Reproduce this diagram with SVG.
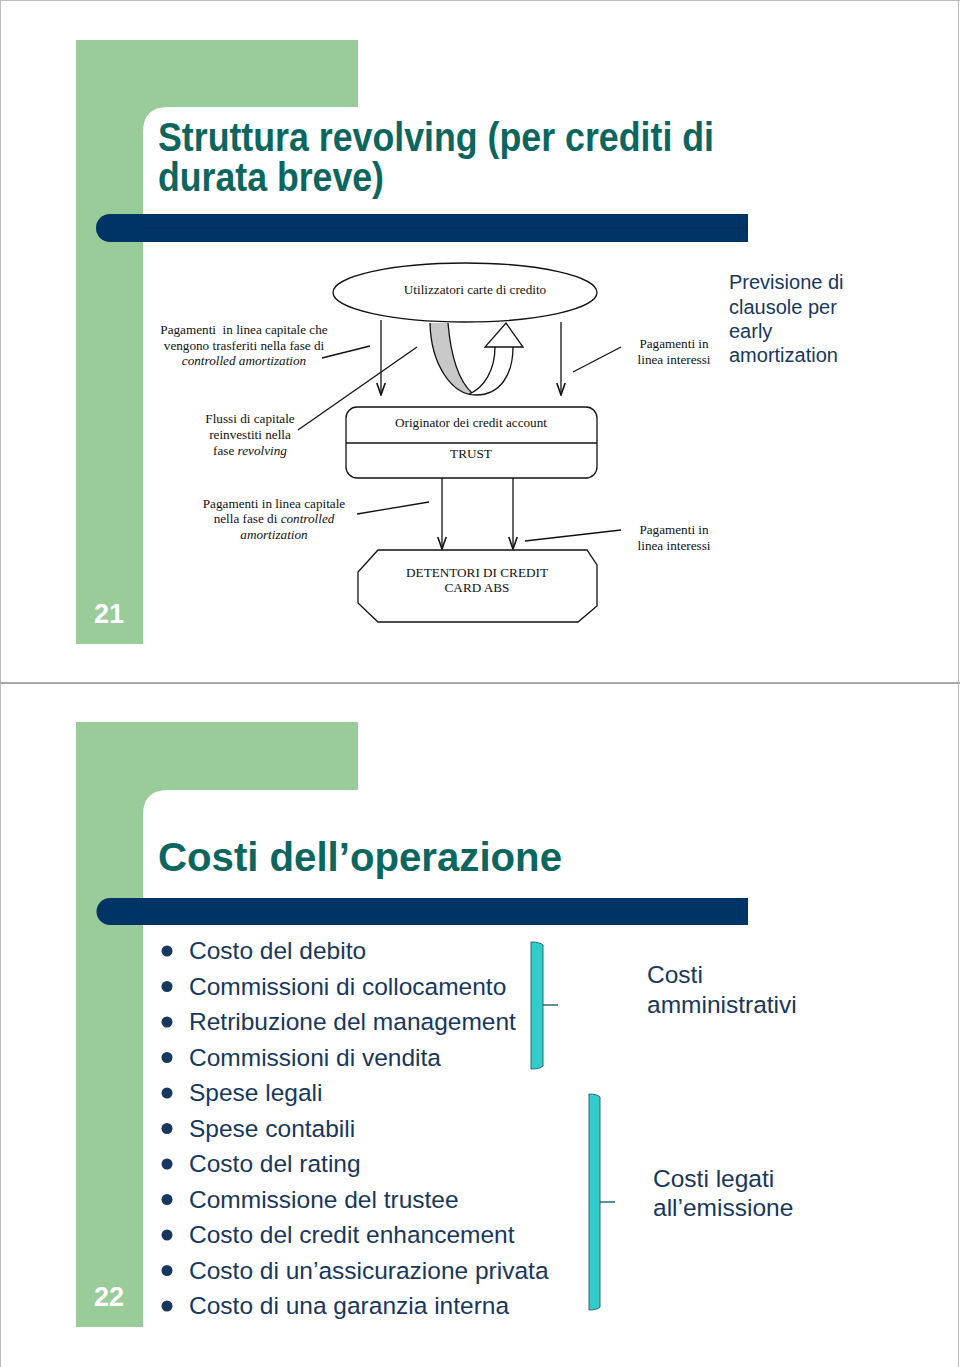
<svg xmlns="http://www.w3.org/2000/svg" width="960" height="1367" viewBox="0 0 960 1367">
<defs>
<style>
.green{fill:#99cc99}
.bar{fill:#003366}
.title{font-family:"Liberation Sans",Arial,sans-serif;font-weight:bold;fill:#0a665f;font-size:40px}
.num{font-family:"Liberation Sans",Arial,sans-serif;font-weight:bold;fill:#ffffff;font-size:27px}
.tm{font-family:"Liberation Serif","Times New Roman",serif;font-size:13.2px;fill:#111}
.ar{font-family:"Liberation Sans",Arial,sans-serif;font-size:20px;fill:#17375e}
.bl{font-family:"Liberation Sans",Arial,sans-serif;font-size:24.5px;fill:#17375e}
.dot{fill:#17375e}
.ln{stroke:#111;stroke-width:1.3;fill:none}
.shape{stroke:#111;stroke-width:1.3;fill:#fff}
.brace{fill:#33cccc;stroke:#1f6f78;stroke-width:1}
.tick{stroke:#1f5f70;stroke-width:1.4;fill:none}
</style>
<marker id="ah" viewBox="0 0 14 10" refX="13" refY="5" markerWidth="14" markerHeight="10" markerUnits="userSpaceOnUse" orient="auto">
<path d="M1,0.8 L13,5 L1,9.2" fill="none" stroke="#111" stroke-width="1.6"/>
</marker>
</defs>
<rect width="960" height="1367" fill="#fff"/>
<g id="page-borders" stroke="#bdbdbd" stroke-width="1" fill="none">
<line x1="0.5" y1="0" x2="0.5" y2="1367"/>
<line x1="958.5" y1="0" x2="958.5" y2="1367"/>
<line x1="0" y1="0.5" x2="960" y2="0.5"/>
<line x1="0" y1="683" x2="960" y2="683" stroke="#a8a8a8" stroke-width="2"/>
</g>

<!-- Slide 21 -->
<g id="slide21-frame">
<path class="green" d="M76,40 H358 V107 H168 Q143,107 143,132 V644 H76 Z"/>
<path class="bar" d="M110,214 H748 V242 H110 A14,14 0 0 1 110,214 Z"/>
<line x1="143" y1="228" x2="745" y2="228" stroke="#0d2a4f" stroke-width="1.2"/>
<text class="title" x="158" y="151" textLength="556" lengthAdjust="spacingAndGlyphs">Struttura revolving (per crediti di</text>
<text class="title" x="158" y="191" textLength="226" lengthAdjust="spacingAndGlyphs">durata breve)</text>
<text class="num" x="109" y="623" text-anchor="middle">21</text>
</g>

<g id="connectors">
<line class="ln" x1="381" y1="320" x2="381" y2="395" marker-end="url(#ah)"/>
<line class="ln" x1="561" y1="322" x2="561" y2="395" marker-end="url(#ah)"/>
<line class="ln" x1="442" y1="478" x2="442" y2="549" marker-end="url(#ah)"/>
<line class="ln" x1="513" y1="478" x2="513" y2="549" marker-end="url(#ah)"/>
<line class="ln" x1="322" y1="358" x2="370" y2="346"/>
<line class="ln" x1="298" y1="430" x2="417" y2="347"/>
<line class="ln" x1="573" y1="372" x2="621" y2="347"/>
<line class="ln" x1="357" y1="514" x2="429" y2="502"/>
<line class="ln" x1="525" y1="541" x2="621" y2="530"/>
</g>

<g id="node-utilizzatori">
<ellipse class="shape" cx="465" cy="292.5" rx="132" ry="29.5"/>
<text class="tm" x="475" y="294" text-anchor="middle">Utilizzatori carte di credito</text>
</g>

<g id="revolving-arrow">
<path d="M430,323 L448,323 C450,355 460,380 472,393 L468,395 C446,388 431,360 430,323 Z" fill="#c8c8c8" stroke="none"/>
<path class="ln" d="M430,323 C431,365 452,395 476,395 C500,395 513,375 513,347"/>
<path class="ln" d="M448,323 C451,358 460,382 472,393"/>
<path class="ln" d="M469,394 C484,388 495,370 495,347"/>
<polygon class="shape" points="495,347 485,347 506,323 523,347 513,347"/>
</g>

<g id="label-pag-capitale-1">
<text class="tm" x="244" y="334" text-anchor="middle" xml:space="preserve">Pagamenti  in linea capitale che</text>
<text class="tm" x="244" y="350" text-anchor="middle">vengono trasferiti nella fase di</text>
<text class="tm" x="244" y="365" text-anchor="middle" font-style="italic">controlled amortization</text>
</g>

<g id="label-pag-interessi-1">
<text class="tm" x="674" y="348" text-anchor="middle">Pagamenti in</text>
<text class="tm" x="674" y="364" text-anchor="middle">linea interessi</text>
</g>

<g id="label-previsione">
<text class="ar" x="729" y="289">Previsione di</text>
<text class="ar" x="729" y="314">clausole per</text>
<text class="ar" x="729" y="338">early</text>
<text class="ar" x="729" y="362">amortization</text>
</g>

<g id="label-flussi">
<text class="tm" x="250" y="423" text-anchor="middle">Flussi di capitale</text>
<text class="tm" x="250" y="439" text-anchor="middle">reinvestiti nella</text>
<text class="tm" x="250" y="455" text-anchor="middle">fase <tspan font-style="italic">revolving</tspan></text>
</g>

<g id="node-trust">
<rect class="shape" x="346" y="407" width="251" height="71" rx="11"/>
<line class="ln" x1="346" y1="443" x2="597" y2="443"/>
<text class="tm" x="471" y="427" text-anchor="middle">Originator dei credit account</text>
<text class="tm" x="471" y="458" text-anchor="middle">TRUST</text>
</g>

<g id="label-pag-capitale-2">
<text class="tm" x="274" y="508" text-anchor="middle">Pagamenti in linea capitale</text>
<text class="tm" x="274" y="523" text-anchor="middle">nella fase di <tspan font-style="italic">controlled</tspan></text>
<text class="tm" x="274" y="539" text-anchor="middle" font-style="italic">amortization</text>
</g>

<g id="label-pag-interessi-2">
<text class="tm" x="674" y="534" text-anchor="middle">Pagamenti in</text>
<text class="tm" x="674" y="550" text-anchor="middle">linea interessi</text>
</g>

<g id="node-detentori">
<polygon class="shape" points="378,550 587,550 597,565 597,606 578,622 378,622 358,603 358,572"/>
<text class="tm" x="477" y="577" text-anchor="middle">DETENTORI DI CREDIT</text>
<text class="tm" x="477" y="592" text-anchor="middle">CARD ABS</text>
</g>

<!-- Slide 22 -->
<g id="slide22-frame">
<path class="green" d="M76,722 H358 V790 H168 Q143,790 143,815 V1327 H76 Z"/>
<path class="bar" d="M110,898 H748 V925 H110 A13.5,13.5 0 0 1 110,898 Z"/>
<text class="title" x="158" y="871" textLength="404" lengthAdjust="spacingAndGlyphs">Costi dell’operazione</text>
<text class="num" x="109" y="1306" text-anchor="middle">22</text>
</g>

<g id="bullets">
<circle class="dot" cx="167" cy="951" r="5.5"/><text class="bl" x="189" y="959">Costo del debito</text>
<circle class="dot" cx="167" cy="986.5" r="5.5"/><text class="bl" x="189" y="994.5">Commissioni di collocamento</text>
<circle class="dot" cx="167" cy="1022" r="5.5"/><text class="bl" x="189" y="1030">Retribuzione del management</text>
<circle class="dot" cx="167" cy="1057.5" r="5.5"/><text class="bl" x="189" y="1065.5">Commissioni di vendita</text>
<circle class="dot" cx="167" cy="1093" r="5.5"/><text class="bl" x="189" y="1101">Spese legali</text>
<circle class="dot" cx="167" cy="1128.5" r="5.5"/><text class="bl" x="189" y="1136.5">Spese contabili</text>
<circle class="dot" cx="167" cy="1164" r="5.5"/><text class="bl" x="189" y="1172">Costo del rating</text>
<circle class="dot" cx="167" cy="1199.5" r="5.5"/><text class="bl" x="189" y="1207.5">Commissione del trustee</text>
<circle class="dot" cx="167" cy="1235" r="5.5"/><text class="bl" x="189" y="1243">Costo del credit enhancement</text>
<circle class="dot" cx="167" cy="1270.5" r="5.5"/><text class="bl" x="189" y="1278.5">Costo di un’assicurazione privata</text>
<circle class="dot" cx="167" cy="1306" r="5.5"/><text class="bl" x="189" y="1314">Costo di una garanzia interna</text>
</g>

<g id="brace-amministrativi">
<path class="brace" d="M531,942 Q540,942 543,945 V1066 Q540,1069 531,1069 Z"/>
<line class="tick" x1="543" y1="1005" x2="558" y2="1005"/>
</g>
<g id="brace-emissione">
<path class="brace" d="M589,1094 Q597,1094 600,1097 V1307 Q597,1310 589,1310 Z"/>
<line class="tick" x1="600" y1="1202" x2="615" y2="1202"/>
</g>

<g id="label-costi-amministrativi">
<text class="bl" x="647" y="983">Costi</text>
<text class="bl" x="647" y="1013">amministrativi</text>
</g>
<g id="label-costi-emissione">
<text class="bl" x="653" y="1187">Costi legati</text>
<text class="bl" x="653" y="1216">all’emissione</text>
</g>
</svg>
